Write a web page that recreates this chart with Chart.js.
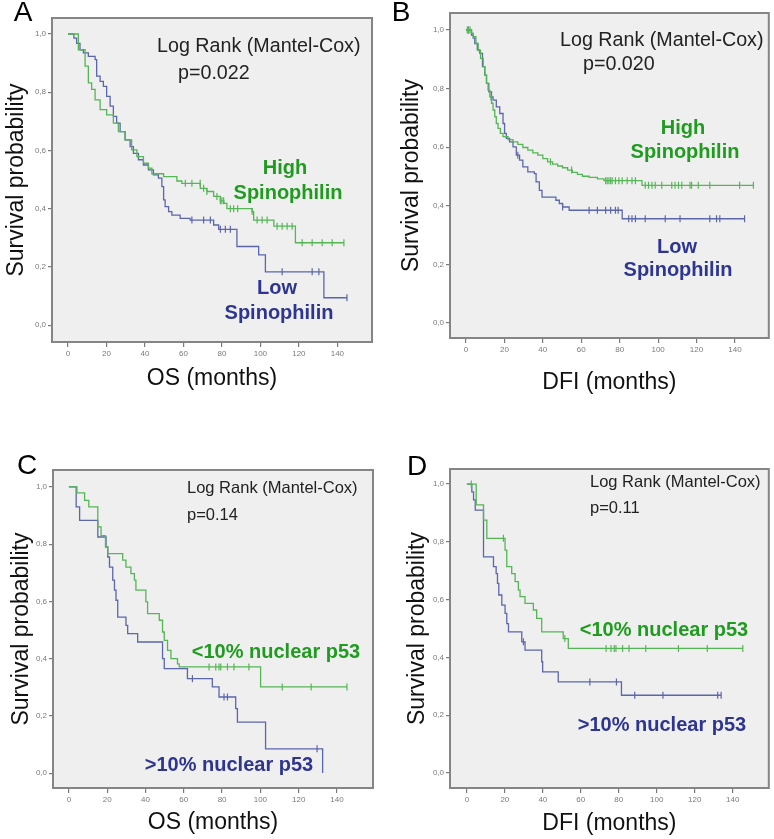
<!DOCTYPE html>
<html>
<head>
<meta charset="utf-8">
<script src="https://cdn.jsdelivr.net/npm/chart.js@4.4.0/dist/chart.umd.min.js"></script>
<style>
  body { margin: 0; background: #fff; }
  #wrap { position: relative; width: 774px; height: 839px; }
  canvas { position: absolute; }
</style>
</head>
<body>
<div id="wrap">
  <canvas id="panelA" width="387" height="400" style="left:0;top:0"></canvas>
  <canvas id="panelB" width="387" height="400" style="left:387px;top:0"></canvas>
  <canvas id="panelC" width="387" height="439" style="left:0;top:400px"></canvas>
  <canvas id="panelD" width="387" height="439" style="left:387px;top:400px"></canvas>
</div>
<script>
// Shared axis ticks
const xTicks = [0, 20, 40, 60, 80, 100, 120, 140];
const yTicks = [0, 0.2, 0.4, 0.6, 0.8, 1.0];

// Panel A - OS by spinophilin (time of each drop, survival after it, censored times)
const aHighTime = [0, 5.4, 8.9, 10.6, 12.3, 14.1, 16.7, 20.1, 23.6, 26.2, 29.7, 33.1, 35.8, 39.2, 41.8, 43.6, 49.7, 56.6, 59.2, 68.8, 72.2, 75.7, 79.2, 81.0, 82.6, 95.7, 96.5, 107.0, 118.2, 143.4];
const aHighSurv = [1.0, 0.946, 0.89, 0.832, 0.81, 0.774, 0.74, 0.722, 0.694, 0.665, 0.636, 0.602, 0.579, 0.556, 0.539, 0.52, 0.51, 0.495, 0.487, 0.47, 0.459, 0.442, 0.427, 0.418, 0.40, 0.39, 0.361, 0.34, 0.283, 0.283];
const aHighCens = [61, 64.4, 68.7, 70.5, 72.2, 77.4, 79.2, 80, 80.9, 84.4, 86.1, 88.2, 95.7, 98.3, 100.9, 103.5, 108.7, 111.3, 113.9, 116.5, 121.7, 126.9, 132.1, 137.3, 143.4];
const aLowTime = [0, 3.1, 4.5, 6.25, 8.0, 10.6, 14.1, 14.9, 16.7, 18.4, 20.1, 21.9, 23.6, 25.3, 27.1, 29.7, 32.3, 34.0, 36.6, 39.2, 41.8, 44.4, 47.0, 48.8, 49.7, 50.5, 52.3, 54.0, 58.3, 63.5, 75.7, 78.3, 87.8, 99.1, 102.6, 133.0, 145.0];
const aLowSurv = [1.0, 0.986, 0.968, 0.946, 0.935, 0.923, 0.912, 0.855, 0.837, 0.82, 0.786, 0.752, 0.717, 0.694, 0.665, 0.636, 0.613, 0.59, 0.568, 0.55, 0.533, 0.516, 0.505, 0.476, 0.43, 0.407, 0.39, 0.378, 0.367, 0.361, 0.344, 0.329, 0.27, 0.241, 0.183, 0.094, 0.094];
const aLowCens = [64.4, 70.5, 74, 79.2, 81.8, 84.4, 111.3, 126.9, 130.4, 145];

// Panel B - DFI by spinophilin
const bHighTime = [0, 2.9, 3.8, 5.2, 6.4, 7.6, 9.0, 9.8, 10.7, 11.5, 12.4, 13.3, 14.1, 15.0, 15.8, 16.7, 17.9, 19.3, 21.9, 24.5, 27.0, 29.6, 32.2, 34.8, 37.4, 40.0, 42.5, 45.1, 47.7, 50.3, 52.9, 55.4, 58.0, 60.6, 64.1, 68.4, 71.8, 91.6, 149.6];
const bHighSurv = [1.0, 0.989, 0.977, 0.954, 0.93, 0.903, 0.875, 0.846, 0.818, 0.795, 0.772, 0.75, 0.727, 0.704, 0.681, 0.664, 0.647, 0.636, 0.626, 0.618, 0.61, 0.599, 0.59, 0.581, 0.573, 0.561, 0.55, 0.542, 0.536, 0.53, 0.522, 0.514, 0.507, 0.501, 0.497, 0.492, 0.486, 0.47, 0.47];
const bHighCens = [0.7, 1.4, 2.1, 13, 44, 55, 72.7, 73.5, 74.4, 75.3, 76.1, 77.8, 79.6, 81.3, 83.9, 86.4, 88.2, 93.3, 95, 96.8, 98.5, 101.9, 107.1, 108.8, 110.6, 112.3, 116.6, 117.4, 120.9, 126.9, 142.4, 149.6];
const bLowTime = [0, 2.9, 3.8, 4.6, 5.9, 7.2, 8.6, 9.8, 10.7, 11.9, 13.3, 14.1, 15.8, 17.6, 19.3, 20.1, 21.0, 22.7, 24.5, 26.2, 27.9, 29.6, 32.2, 35.6, 36.5, 38.2, 39.6, 46.8, 48.6, 50.3, 53.7, 81.3, 145.0];
const bLowSurv = [1.0, 0.983, 0.972, 0.954, 0.932, 0.92, 0.875, 0.846, 0.818, 0.789, 0.772, 0.761, 0.738, 0.715, 0.681, 0.647, 0.63, 0.618, 0.601, 0.573, 0.556, 0.533, 0.516, 0.51, 0.482, 0.453, 0.43, 0.419, 0.408, 0.396, 0.385, 0.356, 0.356];
const bLowCens = [1.2, 27, 50.3, 64.1, 68.4, 72.7, 75.3, 77.8, 79.2, 84.7, 86.4, 88.2, 93.3, 103.7, 111.4, 126.9, 130.4, 132.1, 145];

// Panel C - OS by nuclear p53
const cLowP53Time = [0, 4.2, 8.2, 10.4, 15.1, 16.8, 19.1, 20.3, 28.1, 29.8, 32.4, 34.2, 35.0, 40.2, 41.1, 47.2, 48.9, 49.8, 51.5, 53.3, 56.7, 57.6, 100.1, 145.2];
const cLowP53Surv = [1.0, 0.979, 0.953, 0.93, 0.86, 0.83, 0.79, 0.767, 0.744, 0.72, 0.697, 0.674, 0.639, 0.598, 0.557, 0.534, 0.493, 0.464, 0.429, 0.40, 0.382, 0.371, 0.301, 0.301];
const cLowP53Cens = [73.2, 76.7, 78.4, 79.3, 82.8, 86.2, 94, 111.4, 126.5, 145.2];
const cHighP53Time = [0, 3.8, 5.6, 15.1, 19.4, 20.3, 21.2, 22.9, 23.8, 24.6, 25.5, 29.8, 30.7, 35.9, 48.9, 49.8, 61.9, 74.9, 78.4, 87.1, 88.0, 102.7, 132.5];
const cHighP53Surv = [1.0, 0.93, 0.883, 0.825, 0.79, 0.755, 0.72, 0.674, 0.639, 0.604, 0.545, 0.516, 0.487, 0.458, 0.40, 0.365, 0.33, 0.301, 0.266, 0.225, 0.178, 0.085, 0.0];
const cHighP53Cens = [64.5, 81, 82.8, 129.6];

// Panel D - DFI by nuclear p53
const dLowP53Time = [0, 4.9, 8.75, 10.5, 20.1, 21.0, 23.6, 25.4, 27.1, 28.0, 30.6, 35.0, 36.75, 39.4, 50.75, 53.4, 145.3];
const dLowP53Surv = [1.0, 0.928, 0.875, 0.812, 0.771, 0.714, 0.69, 0.662, 0.633, 0.61, 0.587, 0.564, 0.535, 0.488, 0.465, 0.431, 0.431];
const dLowP53Cens = [2.3, 19.25, 51.6, 73.3, 75.9, 77.6, 78.5, 82, 85.4, 94.2, 111.4, 126.6, 145.3];
const dHighP53Time = [0, 2.6, 3.5, 4.4, 8.75, 14.0, 15.4, 16.1, 16.8, 18.4, 20.1, 21.0, 21.9, 28.9, 30.6, 39.4, 39.9, 48.1, 81.4, 133.9];
const dHighP53Surv = [1.0, 0.973, 0.945, 0.91, 0.748, 0.714, 0.69, 0.656, 0.616, 0.581, 0.552, 0.517, 0.488, 0.454, 0.425, 0.385, 0.35, 0.315, 0.269, 0.269];
const dHighP53Cens = [29.75, 64.75, 78.75, 88.4, 103.25, 132.1, 133.9];

const GREEN_LINE = '#55b655';
const BLUE_LINE = '#5b66ad';
const GREEN_TEXT = '#1f9c1f';
const BLUE_TEXT = '#2e358f';
const FONT = "'Liberation Sans', Arial, sans-serif";

// survival value of a step curve at time t
function survAt(times, surv, t) {
    let s = surv[0];
    for (let i = 0; i < times.length; i++) {
        if (times[i] <= t) s = surv[i];
    }
    return s;
}

const panels = [
    {
        canvas: 'panelA', letter: 'A', letterPos: [23, 13], xLabel: 'OS (months)',
        x: [-8.3, 158], y: [-0.058, 1.055],
        padding: { left: 0, top: 18, right: 15, bottom: 0 }, yW: 52, xH: 58, yTitlePad: 3, xTitlePad: 8,
        test: { size: 19.7, left: 157, y: 47, p: 'p=0.022', pLeft: 178, pY: 74 },
        series: [
            { time: aHighTime, surv: aHighSurv, cens: aHighCens, line: GREEN_LINE },
            { time: aLowTime, surv: aLowSurv, cens: aLowCens, line: BLUE_LINE }
        ],
        labels: [
            { text: 'High', x: 285, y: 168, color: GREEN_TEXT, size: 20 },
            { text: 'Spinophilin', x: 288, y: 193, color: GREEN_TEXT, size: 20 },
            { text: 'Low', x: 277, y: 288, color: BLUE_TEXT, size: 20 },
            { text: 'Spinophilin', x: 279, y: 313, color: BLUE_TEXT, size: 20 }
        ]
    },
    {
        canvas: 'panelB', letter: 'B', letterPos: [14, 13], xLabel: 'DFI (months)',
        x: [-8.3, 157.6], y: [-0.051, 1.058],
        padding: { left: 0, top: 13, right: 3, bottom: 0 }, yW: 63, xH: 62, yTitlePad: 11, xTitlePad: 4,
        test: { size: 19.7, left: 173, y: 41, p: 'p=0.020', pLeft: 196, pY: 65 },
        series: [
            { time: bHighTime, surv: bHighSurv, cens: bHighCens, line: GREEN_LINE },
            { time: bLowTime, surv: bLowSurv, cens: bLowCens, line: BLUE_LINE }
        ],
        labels: [
            { text: 'High', x: 296, y: 128, color: GREEN_TEXT, size: 20 },
            { text: 'Spinophilin', x: 298, y: 152, color: GREEN_TEXT, size: 20 },
            { text: 'Low', x: 290, y: 247, color: BLUE_TEXT, size: 20 },
            { text: 'Spinophilin', x: 291, y: 270, color: BLUE_TEXT, size: 20 }
        ]
    },
    {
        canvas: 'panelC', letter: 'C', letterPos: [27, 66], xLabel: 'OS (months)',
        x: [-8.3, 158.8], y: [-0.052, 1.059],
        padding: { left: 0, top: 70, right: 14, bottom: 0 }, yW: 53, xH: 51, yTitlePad: 8, xTitlePad: 3,
        test: { size: 16.5, left: 187, y: 88, p: 'p=0.14', pLeft: 187, pY: 115 },
        series: [
            { time: cLowP53Time, surv: cLowP53Surv, cens: cLowP53Cens, line: GREEN_LINE },
            { time: cHighP53Time, surv: cHighP53Surv, cens: cHighP53Cens, line: BLUE_LINE }
        ],
        labels: [
            { text: '<10% nuclear p53', x: 276, y: 252, color: GREEN_TEXT, size: 20 },
            { text: '>10% nuclear p53', x: 229, y: 365, color: BLUE_TEXT, size: 20 }
        ]
    },
    {
        canvas: 'panelD', letter: 'D', letterPos: [30, 67], xLabel: 'DFI (months)',
        x: [-8.9, 159], y: [-0.052, 1.052],
        padding: { left: 0, top: 69, right: 5, bottom: 0 }, yW: 63, xH: 51, yTitlePad: 17, xTitlePad: 2,
        test: { size: 16.5, left: 203, y: 82, p: 'p=0.11', pLeft: 203, pY: 108 },
        series: [
            { time: dLowP53Time, surv: dLowP53Surv, cens: dLowP53Cens, line: GREEN_LINE },
            { time: dHighP53Time, surv: dHighP53Surv, cens: dHighP53Cens, line: BLUE_LINE }
        ],
        labels: [
            { text: '<10% nuclear p53', x: 277, y: 230, color: GREEN_TEXT, size: 20 },
            { text: '>10% nuclear p53', x: 275, y: 325, color: BLUE_TEXT, size: 20 }
        ]
    }
];

// Grey plot box, border and the text annotations
const boxPlugin = {
    id: 'spssBox',
    beforeDraw(chart) {
        const { ctx, chartArea: a } = chart;
        ctx.save();
        ctx.fillStyle = '#efefef';
        ctx.fillRect(a.left, a.top, a.right - a.left, a.bottom - a.top);
        ctx.restore();
    },
    afterDraw(chart) {
        const { ctx, chartArea: a } = chart;
        const p = chart.options.plugins.spssBox.panel;
        ctx.save();
        ctx.strokeStyle = '#858585';
        ctx.lineWidth = 2;
        ctx.strokeRect(a.left, a.top, a.right - a.left, a.bottom - a.top);

        ctx.textBaseline = 'middle';
        ctx.fillStyle = '#000';
        ctx.textAlign = 'center';
        ctx.font = `28px ${FONT}`;
        ctx.fillText(p.letter, p.letterPos[0], p.letterPos[1]);

        ctx.textAlign = 'left';
        ctx.fillStyle = '#222';
        ctx.font = `${p.test.size}px ${FONT}`;
        ctx.fillText('Log Rank (Mantel-Cox)', p.test.left, p.test.y);
        ctx.fillText(p.test.p, p.test.pLeft, p.test.pY);

        ctx.textAlign = 'center';
        p.labels.forEach(l => {
            ctx.fillStyle = l.color;
            ctx.font = `bold ${l.size}px ${FONT}`;
            ctx.fillText(l.text, l.x, l.y);
        });
        ctx.restore();
    }
};

function drawPanel(p) {
    const ctx = document.getElementById(p.canvas).getContext('2d');
    const datasets = [];
    p.series.forEach(s => {
        datasets.push({
            data: s.time.map((t, i) => ({ x: t, y: s.surv[i] })),
            showLine: true,
            stepped: true,
            borderColor: s.line,
            borderWidth: 1.3,
            pointRadius: 0
        });
        datasets.push({
            data: s.cens.map(t => ({ x: t, y: survAt(s.time, s.surv, t) })),
            showLine: false,
            pointStyle: 'line',
            pointRotation: 90,
            pointRadius: 3.5,
            pointBorderWidth: 1.2,
            pointBorderColor: s.line,
            borderColor: s.line
        });
    });

    const tickFont = { size: 8, family: FONT };
    const titleFont = { size: 23, family: FONT };

    new Chart(ctx, {
        type: 'scatter',
        data: { datasets },
        options: {
            responsive: false,
            animation: false,
            layout: { padding: p.padding },
            plugins: {
                legend: { display: false },
                tooltip: { enabled: false },
                spssBox: { panel: p }
            },
            scales: {
                x: {
                    type: 'linear',
                    min: p.x[0],
                    max: p.x[1],
                    afterBuildTicks: sc => { sc.ticks = xTicks.map(v => ({ value: v })); },
                    afterFit: sc => { sc.height = p.xH; },
                    grid: { drawOnChartArea: false, tickLength: 5, color: '#7a7a7a', lineWidth: 1.2 },
                    border: { display: false },
                    ticks: { color: '#7a7a7a', font: tickFont, padding: 2, maxRotation: 0, autoSkip: false },
                    title: { display: true, text: p.xLabel, color: '#111', font: titleFont, padding: { top: 0, bottom: p.xTitlePad } }
                },
                y: {
                    type: 'linear',
                    min: p.y[0],
                    max: p.y[1],
                    afterBuildTicks: sc => { sc.ticks = yTicks.map(v => ({ value: v })); },
                    afterFit: sc => { sc.width = p.yW; },
                    grid: { drawOnChartArea: false, tickLength: 4, color: '#7a7a7a', lineWidth: 1.2 },
                    border: { display: false },
                    ticks: {
                        color: '#7a7a7a', font: tickFont, padding: 2, autoSkip: false,
                        callback: v => v.toFixed(1).replace('.', ',')
                    },
                    title: { display: true, text: 'Survival probability', color: '#111', font: titleFont, padding: { top: p.yTitlePad, bottom: 0 } }
                }
            }
        },
        plugins: [boxPlugin]
    });
}

panels.forEach(drawPanel);
</script>
</body>
</html>
